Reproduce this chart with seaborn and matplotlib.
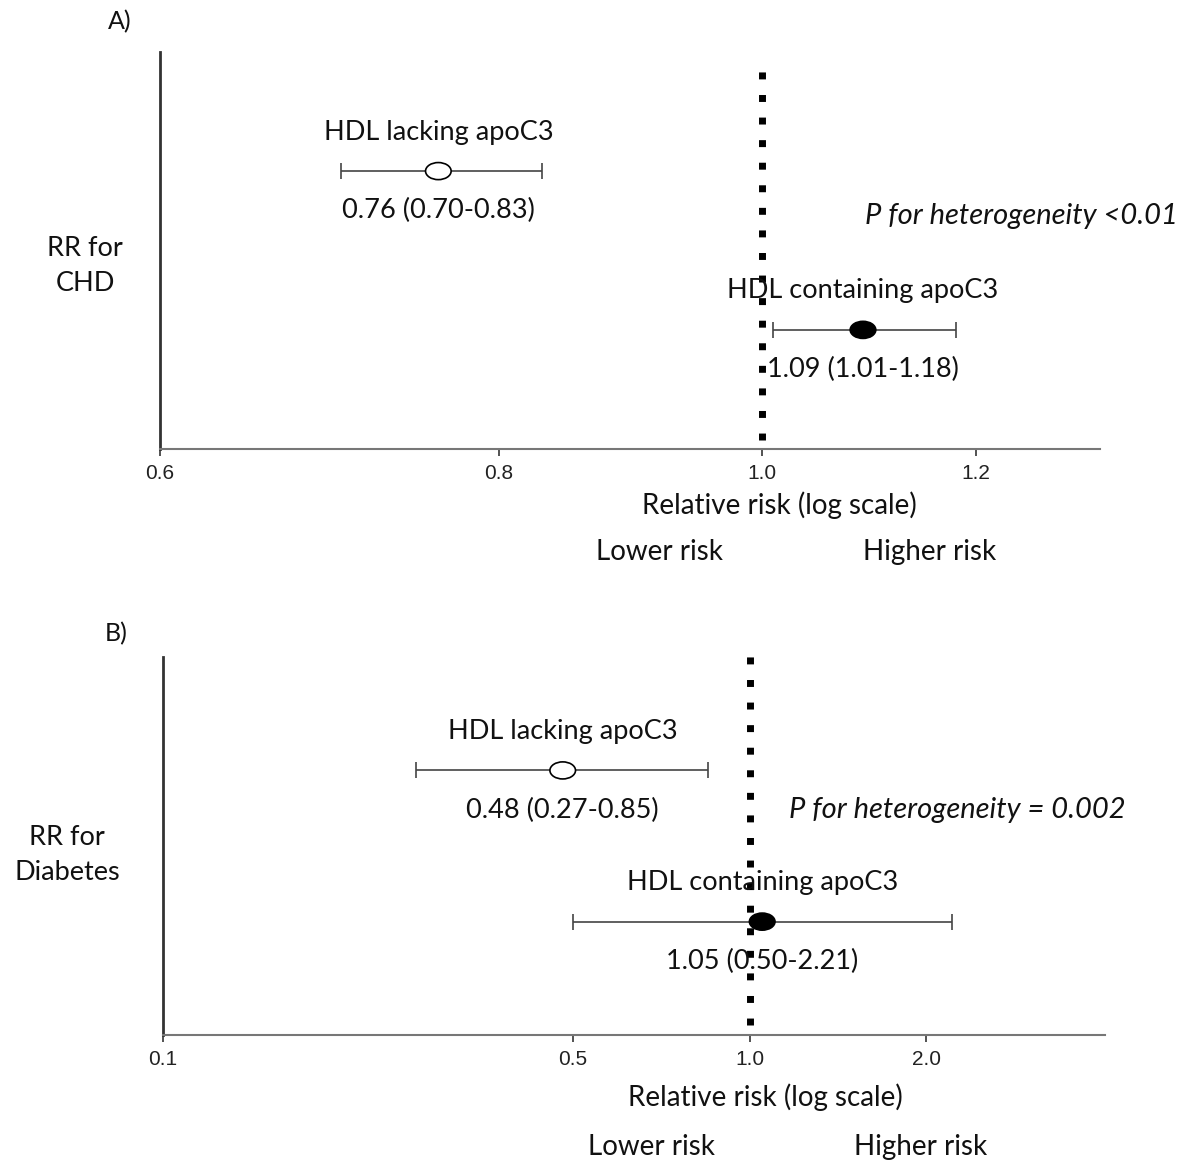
import numpy as np
import pandas as pd
import matplotlib
matplotlib.use("Agg")
import matplotlib.pyplot as plt
from matplotlib.markers import MarkerStyle
from matplotlib.path import Path
from matplotlib.transforms import Affine2D
import seaborn as sns

# data
groups = ["HDL lacking apoC3", "HDL containing apoC3"]
chd_rr = [0.76, 1.09]
chd_lo = [0.70, 1.01]
chd_hi = [0.83, 1.18]
dm_rr = [0.48, 1.05]
dm_lo = [0.27, 0.50]
dm_hi = [0.85, 2.21]
row_y = [0.70, 0.30]

chd_ticks = [0.6, 0.8, 1.0, 1.2]
dm_ticks = [0.1, 0.5, 1.0, 2.0]

sns.set_theme(style="white")
plt.rcParams["font.family"] = ["Lato", "DejaVu Sans"]
plt.rcParams["text.color"] = "#111111"

FS = 19.5

# wide ellipse marker, like the original
ell = MarkerStyle(Path.unit_circle().transformed(Affine2D().scale(1.5, 1.0)))

fig = plt.figure(figsize=(11.92, 11.61), dpi=100)
axA = fig.add_axes([0.1342, 0.6133, 0.7886, 0.3419])
axB = fig.add_axes([0.1367, 0.1085, 0.7903, 0.3256])


def forest(ax, rr, lo, hi, ticks, xlim, vline_span):
    df = pd.DataFrame({"group": groups, "rr": rr, "lo": lo, "hi": hi, "y": row_y})
    ax.set_xscale("log")
    ax.errorbar(df["rr"], df["y"],
                xerr=[df["rr"] - df["lo"], df["hi"] - df["rr"]],
                fmt="none", ecolor="#444444", elinewidth=1.2,
                capsize=6, capthick=1.2, zorder=2)
    sns.scatterplot(data=df, x="rr", y="y", hue="group",
                    palette={groups[0]: "white", groups[1]: "black"},
                    marker=ell, s=340, edgecolor="black", linewidth=1.2,
                    legend=False, ax=ax, zorder=3)
    ax.axvline(1.0, ymin=vline_span[0], ymax=vline_span[1], color="black",
               lw=5, linestyle=(0, (1, 2.25)), dash_capstyle="butt",
               clip_on=False, zorder=1)
    for _, r in df.iterrows():
        ax.annotate(r["group"], (r["rr"], r["y"]), xytext=(0, 28),
                    textcoords="offset points", ha="center", va="center",
                    fontsize=FS)
        ax.annotate(f"{r['rr']:.2f} ({r['lo']:.2f}-{r['hi']:.2f})",
                    (r["rr"], r["y"]), xytext=(0, -28.5),
                    textcoords="offset points", ha="center", va="center",
                    fontsize=FS)
    ax.set_xlim(*xlim)
    ax.set_ylim(0, 1)
    ax.set_xticks(ticks)
    ax.set_xticklabels([f"{t:.1f}" for t in ticks],
                       fontfamily="Liberation Sans", fontsize=15,
                       color="#222222")
    ax.xaxis.set_minor_locator(matplotlib.ticker.NullLocator())
    ax.set_yticks([])
    ax.tick_params(axis="x", direction="out", length=5, width=1.3,
                   color="#444444", bottom=True, pad=6)
    sns.despine(ax=ax)
    ax.spines["left"].set_color("#333333")
    ax.spines["left"].set_linewidth(2)
    ax.spines["bottom"].set_color("#777777")
    ax.spines["bottom"].set_linewidth(1.5)
    ax.set_xlabel("")
    ax.set_ylabel("")


forest(axA, chd_rr, chd_lo, chd_hi, chd_ticks, (0.6, 1.333), (0.023, 0.967))
forest(axB, dm_rr, dm_lo, dm_hi, dm_ticks, (0.1, 4.03), (0.026, 1.013))

H = 1161.0
W = 1192.0


def ftext(x, y, s, **kw):
    kw.setdefault("fontsize", FS)
    kw.setdefault("ha", "center")
    kw.setdefault("va", "center")
    fig.text(x / W, 1 - y / H, s, **kw)


ftext(120, 22, "A)", fontsize=18)
ftext(85, 266, "RR for\nCHD", linespacing=1.5)
ftext(1178, 216, "P for heterogeneity <0.01", ha="right", style="italic",
      fontsize=21)
ftext(779, 505, "Relative risk (log scale)", fontsize=20)
ftext(660, 552, "Lower risk", fontsize=20)
ftext(930, 552, "Higher risk", fontsize=20)

ftext(116, 634, "B)", fontsize=18)
ftext(67, 855, "RR for\nDiabetes", linespacing=1.5)
ftext(1126, 810, "P for heterogeneity = 0.002", ha="right", style="italic",
      fontsize=21)
ftext(765, 1097, "Relative risk (log scale)", fontsize=20)
ftext(651, 1147, "Lower risk", fontsize=20)
ftext(921, 1147, "Higher risk", fontsize=20)

fig.savefig("out.png", dpi=100, facecolor="white")
